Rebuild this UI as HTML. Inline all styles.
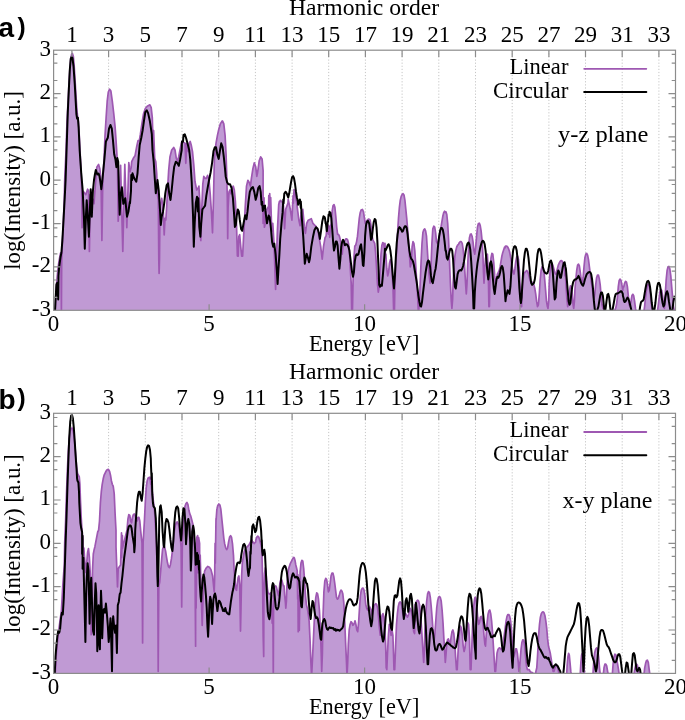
<!DOCTYPE html>
<html><head><meta charset="utf-8"><style>
html,body{margin:0;padding:0;background:#fff;}
svg{display:block;will-change:transform;}
.t text, text.t{font-family:"Liberation Serif",serif;font-size:23px;fill:#000;}
.t{font-family:"Liberation Serif",serif;font-size:23px;fill:#000;}
.lab{font-family:"Liberation Sans",sans-serif;font-weight:bold;font-size:28px;fill:#000;}
.par{font-size:24.5px;}
</style></head><body>
<svg width="685" height="720" viewBox="0 0 685 720">
<g stroke="#c6c6c6" stroke-width="1" stroke-dasharray="1.2,1.9">
<line x1="71.9" y1="50.2" x2="71.9" y2="310.3"/>
<line x1="108.6" y1="50.2" x2="108.6" y2="310.3"/>
<line x1="145.3" y1="50.2" x2="145.3" y2="310.3"/>
<line x1="182" y1="50.2" x2="182" y2="310.3"/>
<line x1="218.7" y1="50.2" x2="218.7" y2="310.3"/>
<line x1="255.4" y1="50.2" x2="255.4" y2="310.3"/>
<line x1="292.1" y1="50.2" x2="292.1" y2="310.3"/>
<line x1="328.7" y1="50.2" x2="328.7" y2="310.3"/>
<line x1="365.4" y1="50.2" x2="365.4" y2="310.3"/>
<line x1="402.1" y1="50.2" x2="402.1" y2="310.3"/>
<line x1="438.8" y1="50.2" x2="438.8" y2="310.3"/>
<line x1="475.5" y1="50.2" x2="475.5" y2="310.3"/>
<line x1="512.2" y1="50.2" x2="512.2" y2="310.3"/>
<line x1="548.9" y1="50.2" x2="548.9" y2="310.3"/>
<line x1="585.5" y1="50.2" x2="585.5" y2="310.3"/>
<line x1="622.2" y1="50.2" x2="622.2" y2="310.3"/>
<line x1="658.9" y1="50.2" x2="658.9" y2="310.3"/>
</g>
<path d="M55.1,310.3 L55.1,309.7 L55.1,310.2 L55.7,298.3 L56.3,286.9 L57.1,277.8 L58,268.7 L58.9,261.9 L59.7,257.3 L60.6,252.8 L61,259.6 L61.4,310.3 L61.7,259.6 L62.3,243.7 L63.1,230 L63.2,225.8 L64.3,198.3 L64.7,180 L66.1,148.8 L67,121.3 L68,103 L68.9,84.7 L69.8,70 L70.7,59 L71.6,54.4 L72.4,53.5 L73.3,56.2 L74.2,66.3 L75.1,81 L76,95.7 L76.8,108.5 L77.5,115.8 L78.4,121.3 L79.3,136 L80.2,154.3 L81.2,172.7 L81.7,189.2 L82.1,227.7 L83,191 L85.8,194.7 L87.6,189.2 L88.5,191 L89.4,251.5 L90.3,194.7 L92.2,198.3 L94,203.8 L94.9,191 L96.8,167.2 L98.6,164.4 L99.9,169 L101,180 L101.9,240.5 L102.8,180 L104.1,158 L105,136 L106.1,117.7 L107.2,101.2 L108.3,92 L109.6,89.2 L110.9,91.1 L112.3,101.2 L113.8,114 L115.1,126.8 L116,139.7 L116.9,154.3 L117.5,165.3 L118.2,221.2 L120.6,165.3 L122.8,251.5 L124.8,164.4 L126.8,227.7 L128.8,162.6 L130,171.7 L131.2,167.2 L131.7,161.7 L133.3,158.3 L135,155.8 L136.7,146.7 L138,140.6 L139.3,140.6 L140.4,134.2 L141.7,125 L143.5,114 L145.3,108.5 L147.2,106.3 L149.9,104.8 L151.2,107.6 L152.3,117.7 L153.3,150 L153.6,130.5 L154.7,158.3 L155.8,161.7 L156.7,173.3 L157.5,195 L158.3,200 L158.8,260 L159.1,273.5 L159.5,260 L160,206.7 L161.7,198.3 L162.5,203.3 L163.3,211.7 L164.2,235 L165,218.3 L165.8,220 L166.7,206.7 L167.5,190 L168.7,170 L170,156.7 L171.7,150 L173.7,147.5 L175,150 L176.3,158.3 L177.5,161.7 L178.7,156.7 L180,150 L181.3,143.3 L182,141.5 L185,143.3 L185.8,163.3 L186.7,143.3 L188.3,151.7 L189.2,143.3 L190.2,141.5 L191.2,145 L192.5,151.7 L193.8,165 L195,181.7 L196.7,190 L197.9,188.1 L198.3,188.3 L198.9,186.1 L199.9,203.6 L200.8,240.6 L201.8,207.5 L202.8,184.2 L203.8,176.4 L205.1,178.3 L206.3,178.3 L207.6,175.4 L209,180.3 L210.2,193.9 L211.5,213.3 L212.5,232.8 L213.5,197.8 L214.4,158.9 L216,143.3 L217.4,135.6 L218.7,129.7 L220.3,123.9 L222.2,121 L222.7,121.3 L223.8,123.9 L225.1,135.6 L226.1,155 L226.7,174.4 L227.3,197.8 L227.7,238.6 L228.1,207.5 L229,191.9 L230,190 L231,193.9 L231.9,188.1 L233.3,186.1 L234.3,190 L235.4,201.7 L236.4,221.1 L237.4,256.1 L238.2,256.1 L238.8,236.7 L239.7,234.7 L240.7,246.4 L241.7,256.1 L242.6,256.1 L243.6,236.7 L245.2,207.5 L246.5,186.1 L247.9,180.3 L249.1,182.2 L250.4,186.1 L251.4,178.3 L252.9,168.6 L254.3,162.8 L255.7,166.7 L256.8,176.4 L257.6,172.5 L259.2,160.8 L260.7,156.9 L262.1,158.9 L263.1,170.6 L263.1,197.5 L263.1,223.3 L264,197.8 L264.4,227.2 L265,225 L265.4,217.1 L267,209.3 L268.6,206.2 L268.8,195.6 L269.3,218.7 L269.7,193.6 L270.4,209.3 L270.7,197.5 L271.7,231.1 L272.8,223.3 L274,243.6 L275.6,289.4 L276.3,262.2 L277.4,231.1 L278.7,204.7 L279.4,201.4 L280.2,201.6 L280.4,200.4 L283.3,203.1 L284.6,228.8 L285.7,209.3 L288,203.1 L288.2,199.4 L290.3,209.3 L291.9,220.2 L293.1,195.6 L293.4,203.1 L294,189.7 L295,191.7 L296,199.4 L296.6,202.3 L298.9,220.2 L300.1,225.7 L301.2,212.4 L302.8,209.3 L304.3,226.4 L305.4,233.4 L306.7,223.3 L308.2,220.2 L309.8,219.4 L311.3,218.7 L312.9,223.3 L314.4,224.9 L316,226.4 L317.9,229.6 L319.1,237.3 L320.7,246.7 L322.2,259.1 L323.5,246.7 L324.6,240.4 L325,238 L325.9,236.2 L326.1,235.8 L326.8,228.9 L327.2,232.7 L327.7,227.1 L328.4,234.2 L328.6,225.3 L329.5,227.1 L329.7,237.3 L330.4,227.1 L331.3,223.5 L332.2,210.9 L333.1,205.5 L334,204.6 L334.9,207.3 L335.8,216.3 L336.7,227.1 L337.6,234.4 L338.5,234.4 L339.4,236.2 L340.3,239.8 L341.2,245.2 L342.2,254.2 L343.1,243.4 L344,241.6 L344.9,240.7 L345.8,238.9 L346.7,238.9 L347.6,239.8 L348.5,243.4 L349.4,250.6 L350.3,268.7 L351.2,283.1 L351.7,310.2 L352.4,310.2 L353,283.1 L353.9,257.8 L354.8,246.1 L355.7,245.2 L356.6,241.6 L357.5,236.2 L358.4,227.1 L359.3,218.1 L360.2,212.7 L361.1,210 L362.4,209.4 L363.5,211.8 L364.4,218.1 L365.3,223.5 L366.2,221.7 L367.4,219.9 L368.7,219 L370.1,219.9 L371,225.3 L371.9,234.4 L372.8,239.8 L373.8,241.6 L374.7,243.4 L375.6,252.4 L376.5,266.9 L377.4,283.1 L378.3,292.1 L379.2,286.7 L380.1,270.5 L381,254.2 L381.9,245.2 L382.8,242.5 L383.7,243.4 L384.6,250.6 L385,243.4 L385.5,257.8 L385.9,254.2 L386.4,263.2 L386.8,268.7 L387.7,275.9 L388.6,272.3 L389.5,263.2 L390.4,259.6 L391.3,261.4 L392.2,272.3 L393.1,290.3 L393.7,310.2 L394.4,310.2 L394.9,283.1 L395.8,263.2 L396.7,248.8 L397.6,232.6 L398.5,218.1 L399.4,207.3 L400.3,200.1 L401.2,196.4 L402.2,194.3 L403.1,193.7 L404,195 L404.9,200.1 L405.8,209.1 L406.7,218.1 L407.6,228.9 L408.5,239.8 L409.4,254.2 L410.3,266.9 L411.2,263.2 L412.1,247 L413,241.6 L413.9,243.4 L414.8,250.6 L415.7,265.1 L416.6,279.5 L417.5,293.9 L418.4,310.2 L419.3,304.8 L420.2,283.1 L421.1,261.4 L422,243.4 L422.9,232.6 L423.8,229.8 L424.7,228.9 L425.6,230.8 L426.5,236.2 L427.4,250.6 L428.3,265.1 L429.2,275.9 L430.1,283.1 L431,266.9 L431.9,243.4 L432.8,228.9 L433.8,226.2 L434.7,227.1 L435.6,232.6 L436.5,241.6 L437.4,243.4 L438.3,241.6 L439.2,236.2 L440.1,232.6 L441,227.1 L441.9,221.7 L442.8,216.3 L443.7,212.7 L444.6,211.2 L445,211.8 L445.5,212.7 L445.9,211.8 L446.8,214.5 L447.7,223.5 L448.6,239.8 L449.5,261.4 L450.4,283.1 L451.3,301.2 L451.9,308.4 L452.6,299.4 L453.1,283.1 L454,266.9 L454.9,256 L455.8,250.6 L456.7,247 L457.6,245.2 L458.5,244.3 L459.4,242.5 L460.3,241.6 L461.2,241.6 L462.2,243.4 L463.1,248.8 L464,257.8 L464.9,272.3 L465.8,286.7 L466.3,293.9 L467,283.1 L467.6,266.9 L468.5,248.8 L469.4,238 L470.3,234.4 L471.2,234 L472.1,236.2 L473,241.6 L473.9,250.6 L474.8,254.2 L475.7,247 L476.6,236.2 L477.5,227.1 L478.4,223.5 L479.3,223.2 L480.2,225.3 L481.1,230.8 L482,239.8 L482.9,254.2 L483.5,272.3 L484,283.1 L484.7,268.7 L485.6,257.8 L486.5,256 L487.4,254.2 L488.3,272.3 L488.9,306.6 L489.4,306.6 L490.1,272.3 L491,257.8 L491.9,253.3 L492.8,254.2 L493.8,263.2 L494.7,275.9 L495.6,283.1 L496.5,279.5 L497.4,274.1 L498.3,272.3 L499.2,270.5 L500.1,266.9 L501,261.4 L501.9,256 L502.8,252.4 L503.7,249.7 L504.6,247 L505,247.9 L505.5,246.1 L505.9,246.6 L506.8,246.1 L507.7,247 L508.6,248.8 L509.5,251.5 L510.4,256 L511.3,261.4 L512.2,266.9 L513.1,272.3 L514,274.1 L514.9,268.7 L515.8,261.4 L516.7,256.9 L517.6,256 L518.5,259.6 L519.4,270.5 L520.3,290.3 L520.9,306.6 L521.6,306.6 L522.2,290.3 L523.1,279.5 L524,274.1 L524.9,272.3 L525.8,271.4 L526.7,270.5 L527.6,271.4 L528.5,274.1 L529.4,277.7 L530.3,281.3 L531.2,282.2 L532.1,282.2 L533,283.1 L533.9,284.9 L534.8,288.5 L535.7,293.9 L536.6,301.2 L537.5,306.6 L538.4,304.8 L539.3,293.9 L540.2,279.5 L541.1,270.5 L542,266.9 L542.9,266.9 L543.8,270.5 L544.7,279.5 L545.6,290.3 L546.5,301.2 L547.4,306.6 L548,308.4 L548.7,301.2 L549.2,283.1 L550.1,270.5 L551,265.1 L551.9,263.2 L552.8,265.1 L553.8,268.7 L554.7,272.3 L555.6,274.1 L556.5,272.3 L557.4,268.7 L558.3,265.1 L559.2,263.2 L560.1,261.4 L561,260.5 L561.9,260.9 L562.8,262.3 L563.7,265.1 L564.6,268.7 L565,275.9 L565.5,274.1 L565.9,283.1 L566.8,297.6 L567.7,306.6 L568.6,299.4 L569.5,290.3 L570.4,285.8 L571.3,286.7 L572.2,293.9 L573.1,304.8 L573.7,308.4 L574.4,301.2 L574.9,290.3 L575.8,279.5 L576.7,270.5 L577.6,265.1 L578.5,264.2 L579.4,266 L580.3,272.3 L581.2,279.5 L582.2,283.1 L583.1,277.7 L584,266.9 L584.9,257.8 L585.8,254.2 L586.7,253.3 L587.6,255.1 L588.5,259.6 L589.4,266.9 L590.3,274.1 L591.2,281.3 L592.1,286.7 L593,293.9 L593.9,299.4 L594.8,293.9 L595.7,284.9 L596.6,277.7 L597.5,275 L598.4,275 L599.3,278.6 L600.2,284.9 L601.1,295.8 L602,304.8 L602.9,308.4 L603.8,308.4 L604.7,310.2 L606.5,310.3 L610.1,310.3 L613.8,310.3 L615.6,308.4 L616.5,304.8 L617.4,297.6 L618.3,286.7 L619.2,280.4 L620.1,279.1 L621,280.4 L621.9,284.9 L622.8,290.3 L622.9,288.5 L623.7,286.7 L623.8,286.7 L624.6,283.1 L624.7,283.1 L625.5,281.3 L625.6,281.3 L626.5,282.2 L627.4,286.7 L628.3,295.8 L629.2,304.8 L630.1,306.6 L631,301.2 L631.9,295.8 L632.8,294.3 L633.7,295.8 L634.6,301.2 L635.5,308.4 L636.4,310.3 L640.1,310.3 L643.7,310.3 L644.6,306.6 L645.5,297.6 L646.4,290.3 L647.3,285.8 L648.2,284 L649.1,284.9 L650,290.3 L650.9,299.4 L651.8,308.4 L652.7,310.3 L654.5,310.3 L657.2,310.3 L658.1,306.6 L659,299.4 L659.9,292.1 L660.8,289.4 L661.7,290.3 L662.6,295.8 L663.5,304.8 L664.4,308.4 L665.3,293.9 L666.2,279.5 L667.1,270.5 L668,266.9 L668.9,266.5 L669.8,268.7 L670.8,275.9 L671.7,286.7 L672.6,297.6 L673.5,306.6 L674.7,310.2 L674.7,310.3 Z" fill="#c09ad4"/>
<clipPath id="ca"><rect x="53.6" y="47.2" width="621.9" height="263.1"/></clipPath>
<path d="M55.1,313.3 L55.1,313.3 L55.7,298.3 L56.3,286.9 L57.1,277.8 L58,268.7 L58.9,261.9 L59.7,257.3 L60.6,252.8 L61,259.6 L61.4,313.3 L61.7,259.6 L62.3,243.7 L63.1,230 L63.2,225.8 L64.3,198.3 L64.7,180 L66.1,148.8 L67,121.3 L68,103 L68.9,84.7 L69.8,70 L70.7,59 L71.6,54.4 L72.4,53.5 L73.3,56.2 L74.2,66.3 L75.1,81 L76,95.7 L76.8,108.5 L77.5,115.8 L78.4,121.3 L79.3,136 L80.2,154.3 L81.2,172.7 L81.7,189.2 L82.1,227.7 L83,191 L85.8,194.7 L87.6,189.2 L88.5,191 L89.4,251.5 L90.3,194.7 L92.2,198.3 L94,203.8 L94.9,191 L96.8,167.2 L98.6,164.4 L99.9,169 L101,180 L101.9,240.5 L102.8,180 L104.1,158 L105,136 L106.1,117.7 L107.2,101.2 L108.3,92 L109.6,89.2 L110.9,91.1 L112.3,101.2 L113.8,114 L115.1,126.8 L116,139.7 L116.9,154.3 L117.5,165.3 L118.2,221.2 L120.6,165.3 L122.8,251.5 L124.8,164.4 L126.8,227.7 L128.8,162.6 L130,171.7 L131.2,167.2 L131.7,161.7 L133.3,158.3 L135,155.8 L136.7,146.7 L138,140.6 L139.3,140.6 L140.4,134.2 L141.7,125 L143.5,114 L145.3,108.5 L147.2,106.3 L149.9,104.8 L151.2,107.6 L152.3,117.7 L153.3,150 L153.6,130.5 L154.7,158.3 L155.8,161.7 L156.7,173.3 L157.5,195 L158.3,200 L158.8,260 L159.1,273.5 L159.5,260 L160,206.7 L161.7,198.3 L162.5,203.3 L163.3,211.7 L164.2,235 L165,218.3 L165.8,220 L166.7,206.7 L167.5,190 L168.7,170 L170,156.7 L171.7,150 L173.7,147.5 L175,150 L176.3,158.3 L177.5,161.7 L178.7,156.7 L180,150 L181.3,143.3 L182,141.5 L185,143.3 L185.8,163.3 L186.7,143.3 L188.3,151.7 L189.2,143.3 L190.2,141.5 L191.2,145 L192.5,151.7 L193.8,165 L195,181.7 L196.7,190 L197.9,188.1 L198.3,188.3 L198.9,186.1 L199.9,203.6 L200.8,240.6 L201.8,207.5 L202.8,184.2 L203.8,176.4 L205.1,178.3 L206.3,178.3 L207.6,175.4 L209,180.3 L210.2,193.9 L211.5,213.3 L212.5,232.8 L213.5,197.8 L214.4,158.9 L216,143.3 L217.4,135.6 L218.7,129.7 L220.3,123.9 L222.2,121 L222.7,121.3 L223.8,123.9 L225.1,135.6 L226.1,155 L226.7,174.4 L227.3,197.8 L227.7,238.6 L228.1,207.5 L229,191.9 L230,190 L231,193.9 L231.9,188.1 L233.3,186.1 L234.3,190 L235.4,201.7 L236.4,221.1 L237.4,256.1 L238.2,256.1 L238.8,236.7 L239.7,234.7 L240.7,246.4 L241.7,256.1 L242.6,256.1 L243.6,236.7 L245.2,207.5 L246.5,186.1 L247.9,180.3 L249.1,182.2 L250.4,186.1 L251.4,178.3 L252.9,168.6 L254.3,162.8 L255.7,166.7 L256.8,176.4 L257.6,172.5 L259.2,160.8 L260.7,156.9 L262.1,158.9 L263.1,170.6 L263.1,197.5 L263.1,223.3 L264,197.8 L264.4,227.2 L265,225 L265.4,217.1 L267,209.3 L268.6,206.2 L268.8,195.6 L269.3,218.7 L269.7,193.6 L270.4,209.3 L270.7,197.5 L271.7,231.1 L272.8,223.3 L274,243.6 L275.6,289.4 L276.3,262.2 L277.4,231.1 L278.7,204.7 L279.4,201.4 L280.2,201.6 L280.4,200.4 L283.3,203.1 L284.6,228.8 L285.7,209.3 L288,203.1 L288.2,199.4 L290.3,209.3 L291.9,220.2 L293.1,195.6 L293.4,203.1 L294,189.7 L295,191.7 L296,199.4 L296.6,202.3 L298.9,220.2 L300.1,225.7 L301.2,212.4 L302.8,209.3 L304.3,226.4 L305.4,233.4 L306.7,223.3 L308.2,220.2 L309.8,219.4 L311.3,218.7 L312.9,223.3 L314.4,224.9 L316,226.4 L317.9,229.6 L319.1,237.3 L320.7,246.7 L322.2,259.1 L323.5,246.7 L324.6,240.4 L325,238 L325.9,236.2 L326.1,235.8 L326.8,228.9 L327.2,232.7 L327.7,227.1 L328.4,234.2 L328.6,225.3 L329.5,227.1 L329.7,237.3 L330.4,227.1 L331.3,223.5 L332.2,210.9 L333.1,205.5 L334,204.6 L334.9,207.3 L335.8,216.3 L336.7,227.1 L337.6,234.4 L338.5,234.4 L339.4,236.2 L340.3,239.8 L341.2,245.2 L342.2,254.2 L343.1,243.4 L344,241.6 L344.9,240.7 L345.8,238.9 L346.7,238.9 L347.6,239.8 L348.5,243.4 L349.4,250.6 L350.3,268.7 L351.2,283.1 L351.7,313.3 L352.4,313.3 L353,283.1 L353.9,257.8 L354.8,246.1 L355.7,245.2 L356.6,241.6 L357.5,236.2 L358.4,227.1 L359.3,218.1 L360.2,212.7 L361.1,210 L362.4,209.4 L363.5,211.8 L364.4,218.1 L365.3,223.5 L366.2,221.7 L367.4,219.9 L368.7,219 L370.1,219.9 L371,225.3 L371.9,234.4 L372.8,239.8 L373.8,241.6 L374.7,243.4 L375.6,252.4 L376.5,266.9 L377.4,283.1 L378.3,292.1 L379.2,286.7 L380.1,270.5 L381,254.2 L381.9,245.2 L382.8,242.5 L383.7,243.4 L384.6,250.6 L385,243.4 L385.5,257.8 L385.9,254.2 L386.4,263.2 L386.8,268.7 L387.7,275.9 L388.6,272.3 L389.5,263.2 L390.4,259.6 L391.3,261.4 L392.2,272.3 L393.1,290.3 L393.7,313.3 L394.4,313.3 L394.9,283.1 L395.8,263.2 L396.7,248.8 L397.6,232.6 L398.5,218.1 L399.4,207.3 L400.3,200.1 L401.2,196.4 L402.2,194.3 L403.1,193.7 L404,195 L404.9,200.1 L405.8,209.1 L406.7,218.1 L407.6,228.9 L408.5,239.8 L409.4,254.2 L410.3,266.9 L411.2,263.2 L412.1,247 L413,241.6 L413.9,243.4 L414.8,250.6 L415.7,265.1 L416.6,279.5 L417.5,293.9 L418.4,313.3 L419.3,304.8 L420.2,283.1 L421.1,261.4 L422,243.4 L422.9,232.6 L423.8,229.8 L424.7,228.9 L425.6,230.8 L426.5,236.2 L427.4,250.6 L428.3,265.1 L429.2,275.9 L430.1,283.1 L431,266.9 L431.9,243.4 L432.8,228.9 L433.8,226.2 L434.7,227.1 L435.6,232.6 L436.5,241.6 L437.4,243.4 L438.3,241.6 L439.2,236.2 L440.1,232.6 L441,227.1 L441.9,221.7 L442.8,216.3 L443.7,212.7 L444.6,211.2 L445,211.8 L445.5,212.7 L445.9,211.8 L446.8,214.5 L447.7,223.5 L448.6,239.8 L449.5,261.4 L450.4,283.1 L451.3,301.2 L451.9,308.4 L452.6,299.4 L453.1,283.1 L454,266.9 L454.9,256 L455.8,250.6 L456.7,247 L457.6,245.2 L458.5,244.3 L459.4,242.5 L460.3,241.6 L461.2,241.6 L462.2,243.4 L463.1,248.8 L464,257.8 L464.9,272.3 L465.8,286.7 L466.3,293.9 L467,283.1 L467.6,266.9 L468.5,248.8 L469.4,238 L470.3,234.4 L471.2,234 L472.1,236.2 L473,241.6 L473.9,250.6 L474.8,254.2 L475.7,247 L476.6,236.2 L477.5,227.1 L478.4,223.5 L479.3,223.2 L480.2,225.3 L481.1,230.8 L482,239.8 L482.9,254.2 L483.5,272.3 L484,283.1 L484.7,268.7 L485.6,257.8 L486.5,256 L487.4,254.2 L488.3,272.3 L488.9,306.6 L489.4,306.6 L490.1,272.3 L491,257.8 L491.9,253.3 L492.8,254.2 L493.8,263.2 L494.7,275.9 L495.6,283.1 L496.5,279.5 L497.4,274.1 L498.3,272.3 L499.2,270.5 L500.1,266.9 L501,261.4 L501.9,256 L502.8,252.4 L503.7,249.7 L504.6,247 L505,247.9 L505.5,246.1 L505.9,246.6 L506.8,246.1 L507.7,247 L508.6,248.8 L509.5,251.5 L510.4,256 L511.3,261.4 L512.2,266.9 L513.1,272.3 L514,274.1 L514.9,268.7 L515.8,261.4 L516.7,256.9 L517.6,256 L518.5,259.6 L519.4,270.5 L520.3,290.3 L520.9,306.6 L521.6,306.6 L522.2,290.3 L523.1,279.5 L524,274.1 L524.9,272.3 L525.8,271.4 L526.7,270.5 L527.6,271.4 L528.5,274.1 L529.4,277.7 L530.3,281.3 L531.2,282.2 L532.1,282.2 L533,283.1 L533.9,284.9 L534.8,288.5 L535.7,293.9 L536.6,301.2 L537.5,306.6 L538.4,304.8 L539.3,293.9 L540.2,279.5 L541.1,270.5 L542,266.9 L542.9,266.9 L543.8,270.5 L544.7,279.5 L545.6,290.3 L546.5,301.2 L547.4,306.6 L548,308.4 L548.7,301.2 L549.2,283.1 L550.1,270.5 L551,265.1 L551.9,263.2 L552.8,265.1 L553.8,268.7 L554.7,272.3 L555.6,274.1 L556.5,272.3 L557.4,268.7 L558.3,265.1 L559.2,263.2 L560.1,261.4 L561,260.5 L561.9,260.9 L562.8,262.3 L563.7,265.1 L564.6,268.7 L565,275.9 L565.5,274.1 L565.9,283.1 L566.8,297.6 L567.7,306.6 L568.6,299.4 L569.5,290.3 L570.4,285.8 L571.3,286.7 L572.2,293.9 L573.1,304.8 L573.7,308.4 L574.4,301.2 L574.9,290.3 L575.8,279.5 L576.7,270.5 L577.6,265.1 L578.5,264.2 L579.4,266 L580.3,272.3 L581.2,279.5 L582.2,283.1 L583.1,277.7 L584,266.9 L584.9,257.8 L585.8,254.2 L586.7,253.3 L587.6,255.1 L588.5,259.6 L589.4,266.9 L590.3,274.1 L591.2,281.3 L592.1,286.7 L593,293.9 L593.9,299.4 L594.8,293.9 L595.7,284.9 L596.6,277.7 L597.5,275 L598.4,275 L599.3,278.6 L600.2,284.9 L601.1,295.8 L602,304.8 L602.9,308.4 L603.8,308.4 L604.7,313.3 L606.5,313.3 L610.1,313.3 L613.8,313.3 L615.6,308.4 L616.5,304.8 L617.4,297.6 L618.3,286.7 L619.2,280.4 L620.1,279.1 L621,280.4 L621.9,284.9 L622.8,290.3 L622.9,288.5 L623.7,286.7 L623.8,286.7 L624.6,283.1 L624.7,283.1 L625.5,281.3 L625.6,281.3 L626.5,282.2 L627.4,286.7 L628.3,295.8 L629.2,304.8 L630.1,306.6 L631,301.2 L631.9,295.8 L632.8,294.3 L633.7,295.8 L634.6,301.2 L635.5,308.4 L636.4,313.3 L640.1,313.3 L643.7,313.3 L644.6,306.6 L645.5,297.6 L646.4,290.3 L647.3,285.8 L648.2,284 L649.1,284.9 L650,290.3 L650.9,299.4 L651.8,308.4 L652.7,313.3 L654.5,313.3 L657.2,313.3 L658.1,306.6 L659,299.4 L659.9,292.1 L660.8,289.4 L661.7,290.3 L662.6,295.8 L663.5,304.8 L664.4,308.4 L665.3,293.9 L666.2,279.5 L667.1,270.5 L668,266.9 L668.9,266.5 L669.8,268.7 L670.8,275.9 L671.7,286.7 L672.6,297.6 L673.5,306.6 L674.7,313.3" fill="none" stroke="#9e58b2" stroke-width="1.7" stroke-linejoin="round" clip-path="url(#ca)"/>
<path d="M54.6,313.3 L54.9,313.3 L55.5,300.6 L55.9,293.8 L56.4,284.7 L57.1,283 L57.5,289.2 L58,297.2 L58.2,299.5 L58.4,286.9 L58.5,275.6 L59.1,267.6 L59.7,263 L60.5,257.3 L61.4,252.8 L62.3,241.4 L63.2,225.8 L64.7,198.3 L65.6,180 L66.9,139.7 L67.8,112.2 L68.9,88.3 L69.8,70 L70.7,59 L71.6,56.8 L72.5,58.1 L73.5,66.3 L74.8,84.7 L75.7,101.2 L76.4,114 L77.1,118.6 L77.9,117.7 L78.6,126.8 L79.7,150.7 L81.2,172.7 L82.6,189.2 L83.9,216.7 L84.8,248.8 L85.9,216.7 L86.7,200.2 L87.8,216.7 L88.9,236.8 L90,207.5 L90.7,189.2 L91.8,216.7 L92.9,191 L94,180 L94.9,174.5 L95.8,169.9 L97.3,174.5 L98.6,173.6 L99.5,176.3 L100.4,181.8 L101.3,189.2 L102.2,181.8 L104.5,158 L105.9,141.5 L107.8,137.8 L109,128.7 L110.5,125 L111.8,128.7 L112.9,139.7 L114.2,154.3 L115.5,159.8 L116.4,167.2 L117.3,158 L118.2,161.7 L118.9,191 L119.7,214.8 L120.6,194.7 L121.9,187.3 L123.3,203.8 L125.2,198.3 L127,216.7 L128.5,211.2 L129.8,202 L130,203.3 L131,191 L131.3,175 L132.1,180 L132.5,173.3 L134.2,178.3 L136.3,181.7 L137.5,173.3 L138.7,156.7 L139.7,145 L141.3,137.8 L142.6,130.5 L143.9,121.3 L145.3,112.2 L146.8,110.3 L148.1,113.1 L149.9,121.3 L151.8,134.2 L152.5,150 L153.7,161.7 L155,181.7 L155.8,193.3 L156.7,186.7 L157.5,180 L158.7,190 L160,210 L160.8,225 L161.7,216.7 L163,211.7 L164.2,203.3 L165.3,193.3 L166.7,185 L168,183.3 L169.2,193.3 L170.5,200 L171.7,190 L173,176.7 L174.2,166.7 L175.8,161.7 L177.5,163.3 L178.8,165.8 L180,160 L181.7,150 L182,141.5 L183,141.7 L183.5,135.1 L184.8,134.2 L186,137.8 L187.5,143.3 L189.2,150 L190.3,160 L191.7,181.7 L193,215 L193.8,246.7 L194.7,223.3 L195.8,203.3 L197,196.7 L197.9,211.4 L198.3,198.3 L199.3,226.9 L200.4,236.7 L201.2,223.1 L202.4,209.4 L203.8,207.5 L205.1,205.6 L206.3,195.8 L207.6,188.1 L209,180.3 L210.6,172.5 L212.1,162.8 L213.5,151.1 L214.8,147.2 L216,147.2 L217.4,155 L218.7,158.9 L219.9,151.1 L221.2,143.3 L222.6,147.2 L223.8,156.9 L224.8,166.7 L225.7,176.4 L227.1,182.2 L228.4,184.2 L230,184.2 L231.6,188.1 L232.9,197.8 L233.9,211.4 L234.9,226.9 L235.8,225 L236.8,215.3 L237.8,209.4 L238.8,211.4 L239.7,219.2 L241.1,228.9 L242.2,230.8 L243.6,223.1 L245.2,215.3 L246.5,219.2 L247.5,211.4 L248.5,201.7 L249.8,191.9 L251.4,188.1 L252.9,187.1 L254.3,191.9 L255.7,199.7 L256.8,195.8 L258.2,188.1 L259.6,186.1 L260.7,191.9 L261.6,204.7 L262.1,201.7 L262.8,210.9 L263.4,207.5 L263.9,206.2 L265,205.6 L265.4,210.9 L267,223.3 L268.6,215.6 L269.6,217.1 L270.9,228 L272.1,242 L273.2,246.7 L274.3,243.6 L275.6,254.4 L276.8,270 L277.6,284 L278.4,270 L279.4,254.4 L280.2,238.9 L281.5,223.3 L282.6,212.4 L283.3,199.4 L283.6,203.1 L284.3,193.6 L285.7,191.7 L286.8,193.6 L288.2,197.5 L289.2,193.6 L290.1,187.8 L291.1,181.9 L292.1,177.1 L293.1,176.1 L294,178.1 L295,183.9 L296,191.7 L296.9,197.5 L297.9,201.4 L298.1,204.7 L298.9,200.4 L299.7,201.6 L299.9,199.4 L300.8,207.8 L300.8,201.4 L302,220.2 L303.2,235.8 L304.3,254.4 L304.8,263.8 L305.6,259.1 L306.7,253.7 L307.9,257.6 L309,262.2 L309.8,259.1 L311.3,246.7 L312.9,237.3 L314.4,230.3 L316,227.2 L317.6,228.8 L318.8,232.7 L319.9,238.9 L321,231.1 L322.2,221.8 L323.5,216.3 L324.6,217.1 L325,218.1 L325.6,223.3 L325.9,223.5 L326.8,230.8 L326.9,231.1 L327.7,221.7 L328,221.8 L328.6,214.5 L329.2,215.6 L329.5,211.8 L330,214 L330.4,212.7 L331.3,218.1 L332.2,228.9 L333.1,241.6 L334,250.6 L334.9,247 L335.8,241.6 L336.7,241.6 L337.6,245.2 L338.5,257.8 L339.4,268.7 L340.3,259.6 L341.2,247 L342.2,241.6 L343.1,239.8 L344,241.6 L344.9,245.2 L345.8,244.3 L346.7,244.3 L347.6,245.2 L348.5,247 L349.4,250.6 L350.3,257.8 L351.2,265.1 L352.1,272.3 L353,276.8 L353.9,272.3 L354.8,261.4 L355.7,256 L356.6,254.2 L357.5,255.1 L358.4,254.2 L359.3,250.6 L360.2,246.1 L361.1,244.3 L362,252.4 L362.9,265.1 L363.5,266 L364.4,252.4 L365.1,236.2 L366,225.3 L366.9,221.7 L368,220.8 L369.2,223.5 L370.1,230.8 L371,239.8 L371.9,238 L372.8,228.9 L373.8,221.7 L374.7,219 L375.6,219.9 L376.5,227.1 L377.4,241.6 L378.3,263.2 L379.2,284.9 L380.1,286.7 L381,284.9 L381.9,285.8 L382.8,275.9 L383.7,265.1 L384.6,254.2 L385,248.8 L385.5,250.6 L385.9,249.7 L386.8,247.9 L387.7,245.2 L388.6,244.3 L389.5,246.1 L390.4,250.6 L391.3,257.8 L392.2,268.7 L393.1,279.5 L394,288.5 L394.9,275.9 L395.8,257.8 L396.7,243.4 L397.6,234.4 L398.5,228.9 L399.4,227.1 L400.3,228 L401.2,229.8 L402.2,231.7 L403.1,230.8 L404,228 L404.9,226.2 L405.8,226.2 L406.7,228 L407.6,234.4 L408.5,243.4 L409.4,250.6 L410.3,256 L411.2,258.7 L412.1,259.6 L413,261.4 L413.9,265.1 L414.8,270.5 L415.7,275.9 L416.6,281.3 L417.5,288.5 L418.4,295.8 L419.3,301.2 L420.2,305.7 L421.1,306.6 L422,302.1 L422.9,293.9 L423.8,286.7 L424.7,279.5 L425.6,272.3 L426.5,266.9 L427.4,262.3 L428.3,260.5 L429.2,261.4 L430.1,266.9 L431,275.9 L431.9,281.3 L432.8,283.1 L433.8,277.7 L434.7,272.3 L435.6,268.7 L436.5,261.4 L437.4,252.4 L438.3,243.4 L439.2,236.2 L440.1,230.8 L441,228 L441.9,228 L442.8,229.8 L443.7,234.4 L444.6,241.6 L445.5,250.6 L445.9,250.6 L446.8,257.8 L447.7,259.6 L448.6,256 L449.5,251.5 L450.4,248.8 L451.3,248.8 L452.2,250.6 L453.1,259.6 L454,275.9 L454.9,286.7 L455.8,288.5 L456.7,281.3 L457.6,274.1 L458.5,271.4 L459.4,270.5 L460.3,270.1 L461.2,270.5 L462.2,268.7 L463.1,266 L464,261.4 L464.9,256 L465.8,250.6 L466.7,246.1 L467.6,243.4 L468.5,242.5 L469.4,244.3 L470.3,249.7 L471.2,261.4 L472.1,275.9 L473,292.1 L473.5,308.4 L474.2,308.4 L474.8,292.1 L475.7,279.5 L476.6,270.5 L477.5,263.2 L478.4,257.8 L479.3,252.4 L480.2,247.9 L481.1,244.3 L482,241.6 L482.9,240.7 L483.8,241.6 L484.7,244.3 L485.6,250.6 L486.5,261.4 L487.4,272.3 L488.3,279.5 L489.2,272.3 L490.1,263.2 L491,261.4 L491.9,265.1 L492.8,277.7 L493.8,288.5 L494.7,293.9 L495.6,286.7 L496.5,279.5 L497.4,276.8 L498.3,277.7 L499.2,275.9 L500.1,272.3 L501,267.8 L501.9,266 L502.8,267.8 L503.7,274.1 L504.6,286.7 L505.5,301.2 L505.9,297.6 L506.8,293.9 L507.7,290.3 L508.6,292.1 L509.5,293.9 L510.4,286.7 L511.3,272.3 L512.2,259.6 L513.1,250.6 L514,247 L514.9,246.1 L515.8,247 L516.7,250.6 L517.6,259.6 L518.5,272.3 L519.4,288.5 L520.3,299.4 L520.9,303 L521.6,297.6 L522.2,286.7 L523.1,272.3 L524,259.6 L524.9,252.4 L525.8,248.8 L526.7,248.8 L527.6,251.5 L528.5,257.8 L529.4,266.9 L530.3,275.9 L531.2,283.1 L532.1,284.9 L533,284 L533.9,283.1 L534.8,279.5 L535.7,272.3 L536.6,263.2 L537.5,254.2 L538.4,249.7 L539.3,248.8 L540.2,249.7 L541.1,253.3 L542,259.6 L542.9,266.9 L543.8,270.5 L544.7,272.3 L545.6,273.2 L546.5,273.7 L547.4,273.2 L548.3,270.5 L549.2,265.1 L550.1,261.4 L551,260.5 L551.9,263.2 L552.8,272.3 L553.8,286.7 L554.7,299.4 L555.6,297.6 L556.5,283.1 L557.4,274.1 L558.3,270.5 L559.2,272.3 L560.1,277.7 L561,277.7 L561.9,272.3 L562.8,266.9 L563.7,263.2 L564.6,262.3 L565.5,266.9 L565.9,268.7 L566.8,279.5 L567.7,290.3 L568.6,301.2 L569.5,304.8 L570.4,303 L571.3,293.9 L572.2,286.7 L573.1,282.2 L574,280.4 L574.9,279.5 L575.8,279.5 L576.7,278.6 L577.6,277.7 L578.5,275.9 L579.4,277.7 L580.3,280.4 L581.2,283.1 L582.2,284.9 L583.1,285.8 L584,283.1 L584.9,279.5 L585.8,276.8 L586.7,274.1 L587.6,273.2 L588.5,272.3 L589.4,271.9 L590.3,272.3 L591.2,274.1 L592.1,279.5 L593,288.5 L593.9,301.2 L594.8,309.3 L595.7,313.3 L596.6,313.3 L597.5,309.3 L598.4,306.6 L599.3,301.2 L600.2,295.8 L601.1,292.5 L602,292.5 L602.9,295.8 L603.8,304.8 L604.7,313.3 L605.6,308.4 L606.5,301.2 L607.4,294.8 L608.3,293.9 L609.2,297.6 L610.1,306.6 L611,313.3 L611.9,313.3 L612.8,308.4 L613.8,303 L614.7,297.6 L615.6,294.3 L616.5,293.6 L617.4,293.6 L618.3,293 L619.2,292.5 L620.1,291.8 L621,291.2 L621.9,291.8 L622.8,293.9 L622.9,295.8 L623.7,298.5 L623.8,300.3 L624.6,302.1 L624.7,302.1 L625.5,301.2 L625.6,301.2 L626.5,299.4 L627.4,297.6 L628.3,298.5 L629.2,301.2 L630.1,304.8 L631,308.4 L631.9,313.3 L639.2,313.3 L640.1,306.6 L641,302.1 L641.9,301.2 L642.8,300.8 L643.7,299.4 L644.6,293.9 L645.5,288.5 L646.4,284 L647.3,281.3 L648.2,280.9 L649.1,282.2 L650,286.7 L650.9,293.9 L651.8,303 L652.7,309.3 L653.6,313.3 L654.5,309.3 L655.4,303 L656.3,293.9 L657.2,286.7 L658.1,283.1 L659,282.8 L659.9,284.9 L660.8,290.3 L661.7,297.6 L662.6,303 L663.5,306.6 L664.4,304.8 L665.3,297.6 L666.2,293 L667.1,291.2 L668,293.9 L668.9,301.2 L669.8,306.6 L670.8,313.3 L671.7,313.3 L672.6,308.4 L673.5,301.2 L674.7,295.8" fill="none" stroke="#000" stroke-width="2" stroke-linejoin="round" clip-path="url(#ca)"/>
<g stroke="#8c8c8c" stroke-width="1.2" fill="none">
<rect x="53.6" y="50.2" width="621.9" height="260.1"/>
<path d="M53.6,297.3h3.8M675.5,297.3h-3.8M53.6,280h3.8M675.5,280h-3.8M53.6,271.2h3.8M675.5,271.2h-3.8M53.6,266.9h7M675.5,266.9h-7M53.6,253.9h3.8M675.5,253.9h-3.8M53.6,236.6h3.8M675.5,236.6h-3.8M53.6,227.8h3.8M675.5,227.8h-3.8M53.6,223.6h7M675.5,223.6h-7M53.6,210.6h3.8M675.5,210.6h-3.8M53.6,193.3h3.8M675.5,193.3h-3.8M53.6,184.5h3.8M675.5,184.5h-3.8M53.6,180.2h7M675.5,180.2h-7M53.6,167.2h3.8M675.5,167.2h-3.8M53.6,149.9h3.8M675.5,149.9h-3.8M53.6,141.1h3.8M675.5,141.1h-3.8M53.6,136.9h7M675.5,136.9h-7M53.6,123.9h3.8M675.5,123.9h-3.8M53.6,106.6h3.8M675.5,106.6h-3.8M53.6,97.8h3.8M675.5,97.8h-3.8M53.6,93.6h7M675.5,93.6h-7M53.6,80.5h3.8M675.5,80.5h-3.8M53.6,63.2h3.8M675.5,63.2h-3.8M53.6,54.4h3.8M675.5,54.4h-3.8M209.1,310.3v-6M364.6,310.3v-6M520,310.3v-6M71.9,50.2v6.8M108.6,50.2v6.8M145.3,50.2v6.8M182,50.2v6.8M218.7,50.2v6.8M255.4,50.2v6.8M292.1,50.2v6.8M328.7,50.2v6.8M365.4,50.2v6.8M402.1,50.2v6.8M438.8,50.2v6.8M475.5,50.2v6.8M512.2,50.2v6.8M548.9,50.2v6.8M585.5,50.2v6.8M622.2,50.2v6.8M658.9,50.2v6.8"/>
</g>
<g class="t">
<text x="51" y="315.6" text-anchor="end">-3</text>
<text x="51" y="272.2" text-anchor="end">-2</text>
<text x="51" y="228.9" text-anchor="end">-1</text>
<text x="51" y="185.6" text-anchor="end">0</text>
<text x="51" y="142.2" text-anchor="end">1</text>
<text x="51" y="98.9" text-anchor="end">2</text>
<text x="51" y="55.5" text-anchor="end">3</text>
<text x="53.6" y="331" text-anchor="middle">0</text>
<text x="209.1" y="331" text-anchor="middle">5</text>
<text x="364.6" y="331" text-anchor="middle">10</text>
<text x="520" y="331" text-anchor="middle">15</text>
<text x="675.5" y="331" text-anchor="middle">20</text>
<text x="71.9" y="41.8" text-anchor="middle">1</text>
<text x="108.6" y="41.8" text-anchor="middle">3</text>
<text x="145.3" y="41.8" text-anchor="middle">5</text>
<text x="182" y="41.8" text-anchor="middle">7</text>
<text x="218.7" y="41.8" text-anchor="middle">9</text>
<text x="255.4" y="41.8" text-anchor="middle">11</text>
<text x="292.1" y="41.8" text-anchor="middle">13</text>
<text x="328.7" y="41.8" text-anchor="middle">15</text>
<text x="365.4" y="41.8" text-anchor="middle">17</text>
<text x="402.1" y="41.8" text-anchor="middle">19</text>
<text x="438.8" y="41.8" text-anchor="middle">21</text>
<text x="475.5" y="41.8" text-anchor="middle">23</text>
<text x="512.2" y="41.8" text-anchor="middle">25</text>
<text x="548.9" y="41.8" text-anchor="middle">27</text>
<text x="585.5" y="41.8" text-anchor="middle">29</text>
<text x="622.2" y="41.8" text-anchor="middle">31</text>
<text x="658.9" y="41.8" text-anchor="middle">33</text>
<text x="288.9" y="15.3" textLength="150.2" lengthAdjust="spacingAndGlyphs">Harmonic order</text>
<text x="308.9" y="350.9" textLength="110.5" lengthAdjust="spacingAndGlyphs">Energy [eV]</text>
<text transform="translate(19.6,269.8) rotate(-90)" textLength="178.7" lengthAdjust="spacingAndGlyphs">log(Intensity) [a.u.]</text>
<text x="509.5" y="74" textLength="58.9" lengthAdjust="spacingAndGlyphs">Linear</text>
<text x="493" y="97.6" textLength="75.4" lengthAdjust="spacingAndGlyphs">Circular</text>
<text x="558" y="141.5" textLength="90.4" lengthAdjust="spacingAndGlyphs">y-z plane</text>
</g>
<line x1="584.2" y1="68.8" x2="646.3" y2="68.8" stroke="#9e58b2" stroke-width="1.8" stroke-linecap="round"/>
<line x1="584.2" y1="92.1" x2="646.3" y2="92.1" stroke="#000" stroke-width="2" stroke-linecap="round"/>
<g stroke="#c6c6c6" stroke-width="1" stroke-dasharray="1.2,1.9">
<line x1="71.9" y1="413.3" x2="71.9" y2="673.4"/>
<line x1="108.6" y1="413.3" x2="108.6" y2="673.4"/>
<line x1="145.3" y1="413.3" x2="145.3" y2="673.4"/>
<line x1="182" y1="413.3" x2="182" y2="673.4"/>
<line x1="218.7" y1="413.3" x2="218.7" y2="673.4"/>
<line x1="255.4" y1="413.3" x2="255.4" y2="673.4"/>
<line x1="292.1" y1="413.3" x2="292.1" y2="673.4"/>
<line x1="328.7" y1="413.3" x2="328.7" y2="673.4"/>
<line x1="365.4" y1="413.3" x2="365.4" y2="673.4"/>
<line x1="402.1" y1="413.3" x2="402.1" y2="673.4"/>
<line x1="438.8" y1="413.3" x2="438.8" y2="673.4"/>
<line x1="475.5" y1="413.3" x2="475.5" y2="673.4"/>
<line x1="512.2" y1="413.3" x2="512.2" y2="673.4"/>
<line x1="548.9" y1="413.3" x2="548.9" y2="673.4"/>
<line x1="585.5" y1="413.3" x2="585.5" y2="673.4"/>
<line x1="622.2" y1="413.3" x2="622.2" y2="673.4"/>
<line x1="658.9" y1="413.3" x2="658.9" y2="673.4"/>
</g>
<path d="M55.1,673.4 L55.1,673.2 L56.4,653 L58.2,634.7 L60.1,620 L61.4,610.8 L62.8,585.2 L64.3,565 L64.7,543 L65.6,521 L66.5,493.5 L67.4,469.7 L68.3,451.3 L69.2,438.5 L70.2,431.2 L71.1,428.4 L72,427.9 L72.9,429.3 L73.8,434.8 L74.8,444 L75.7,455 L76.6,466 L77.5,473.3 L78.4,475.2 L79.3,477 L79.9,484.3 L80.4,499 L81.2,517.3 L82.1,532 L83,539.3 L83,546.7 L83.9,548.5 L84.8,561.3 L85.8,572.3 L86.7,563.2 L87.6,552.2 L88.5,548.5 L89.4,557.7 L90.3,574.2 L91.2,634.7 L91.8,625.5 L92.5,570.5 L93.3,554 L94,550.3 L94.9,546.7 L97.7,532 L98.6,530.2 L99.5,521 L100.4,502.7 L101.3,491.7 L102.2,484.3 L103.2,478.8 L104.1,475.2 L105,473.3 L105.9,471.5 L106.8,470 L108.3,469.3 L109.6,471.5 L110.5,475.2 L111.4,480.7 L112.3,484.3 L113.2,486.2 L114.2,493.5 L115.1,513.7 L116,530.2 L116,546.7 L116.9,570.5 L117.5,587 L118.2,568.7 L119.3,566.8 L120.6,565 L121.5,532.9 L121.5,557.7 L122.4,535.7 L122.4,548.5 L127,530.2 L127.9,519.2 L128.8,514.6 L129.8,515.5 L130.7,521 L131.6,522.8 L132.5,517.3 L133.4,514.6 L134.3,514 L135.2,515.5 L136.2,519.2 L137.1,521 L138,517.3 L138.9,517.3 L139.8,521 L140.8,532 L142,543 L142.6,642.9 L143.1,543 L144.4,521 L145.3,502.7 L146.2,488 L147.2,480.7 L148.1,477.9 L149,477.4 L149.9,478.8 L150,477.2 L150.8,484.3 L151,481.1 L151.8,491.7 L151.9,488.9 L152.9,496.7 L153.5,502.5 L154.3,508.3 L154.9,516.1 L155.8,531.7 L156.8,555 L157.8,576.4 L158.2,671.3 L158.8,586.1 L159.7,582.2 L160.7,570.6 L161.7,558.9 L162.6,549.2 L163.6,546.2 L164.6,547.2 L165.6,551.1 L166.5,556.9 L167.5,562.8 L168.5,566.7 L169.4,567.6 L170.4,564.7 L171.4,558.9 L172.4,551.1 L173.3,541.4 L174.3,531.7 L175.3,525.8 L176.2,522.9 L177.2,521.9 L178.2,523.9 L179.2,527.8 L180.1,535.6 L181.1,547.2 L181.7,606.9 L182.3,547.2 L183.1,527.8 L184,512.2 L185,506.4 L186,503.5 L186.9,502.5 L187.9,504.4 L188.9,510.3 L189.9,514.2 L190.8,516.1 L191.8,520 L192.8,523.9 L193.8,529.7 L194.3,541.4 L195.1,566.7 L195.3,607.9 L195.6,646.2 L195.7,543.3 L196.1,607.9 L196.6,569.6 L196.7,537.5 L197.6,535.6 L198.2,572.8 L198.6,537.5 L199.6,543.3 L199.8,579.2 L200.2,555 L201.4,599.9 L202.2,625.5 L203,599.9 L203.8,579.2 L204.6,571.2 L206.2,568 L207.8,566.4 L209.4,567.2 L211,569.6 L212.6,576 L213.4,584 L214.2,591.9 L214.6,579.2 L215.1,543.3 L215.3,563.2 L216,518.6 L216.1,520 L216.9,508.9 L217.1,508.3 L217.9,505 L218.1,505.4 L218.9,504 L219,504.4 L219.9,505 L220.8,508.9 L221.8,518.6 L222.8,528.3 L223.8,538.1 L224.7,543.9 L225.7,547.8 L226.7,549.7 L227.6,547.8 L228.6,541.9 L229.6,537.1 L230.6,535.7 L231.5,537.1 L232.5,543.9 L233.5,555.6 L234.1,569.6 L234.9,579.2 L235.7,588.8 L236.5,590.3 L237.3,584 L238.1,577.6 L238.9,576 L239.7,584 L240.5,631.1 L241,607.9 L241.6,576 L242.3,563.2 L243.2,557.5 L244.2,551.7 L245.1,549.7 L246.1,547.8 L247.1,546.8 L248.1,545.8 L249,544.9 L250,542.9 L251,541 L251.9,540 L252.8,542.8 L252.9,541.9 L254.2,543.5 L255.6,542.1 L255.8,540 L256.8,537.1 L257.8,536.1 L258.8,537.1 L259.7,540 L261.8,548.3 L262.5,574.7 L263.2,637.2 L263.7,656.6 L263.9,595.6 L264.6,573.3 L265.3,567.8 L266,571.9 L266.7,581.7 L267.4,588.6 L268.1,592.8 L269.4,594.2 L270.8,592.8 L271.5,595.6 L272.2,623.3 L272.9,609.4 L273.3,673.4 L273.6,595.6 L274.3,587.2 L275,586.5 L275.7,585.8 L276.4,587.2 L277.1,590 L277.8,592.8 L278.5,595.6 L279.2,590 L279.9,583.1 L280.6,580.3 L281.2,578.9 L281.9,580.3 L282.6,583.1 L283.3,585.8 L284,585.8 L284.7,595.6 L285.4,602.5 L285.8,608.1 L286.4,601.1 L286.8,588.6 L287.5,576.1 L288.2,570.6 L288.9,567.8 L289.6,565.7 L290.3,563.6 L291,562.2 L291.7,560.8 L292.4,559.4 L293.1,558.1 L293.8,557.4 L294.4,558.1 L295.1,560.8 L295.8,565 L296.5,567.8 L297.2,570.6 L297.7,599.2 L297.9,574.7 L298.2,631.7 L298.6,595.6 L299,599.2 L299.3,630.3 L300.1,572.1 L301,563.1 L301.9,560.3 L302.8,561.2 L303.7,568.5 L304.6,581.1 L305.5,595.6 L306.4,604.6 L307.3,608.2 L308.2,613.6 L309.1,620.8 L310,638.9 L310.9,662.4 L311.6,673.2 L312.3,662.4 L313.1,646.1 L314,626.2 L314.9,608.2 L315.8,597.4 L316.7,592.8 L317.6,593.8 L318.5,599.2 L319.4,610 L320.3,626.2 L321.2,653.3 L321.7,671.4 L322.4,653.3 L323,617.2 L323.9,591.9 L324.8,581.1 L325.7,578.4 L326.6,579.3 L327.5,584.7 L328.4,591.9 L329.3,590.1 L330.2,582.9 L331.1,575.7 L332,573 L332.9,573 L333.8,576.6 L334.7,582.9 L335.6,590.1 L336.5,597.4 L337.4,599.2 L338.3,598.3 L339.2,595.6 L340.1,591.9 L341,590.1 L341.9,591 L342.8,593.8 L343.8,602.8 L344.7,620.8 L345.6,642.5 L346.5,662.4 L347,673.2 L347.7,662.4 L348.3,644.3 L349.2,629.9 L350.1,624.4 L351,621.7 L351.9,622.6 L352.8,625.3 L353.7,624.4 L354.6,622.3 L355,620.8 L355.5,622.6 L355.9,624.4 L356.8,629.9 L357.7,631.7 L358.6,622.6 L359.5,608.2 L360.4,595.6 L361.3,590.1 L362.2,588.3 L363.1,588 L364,590.1 L364.9,595.6 L365.8,604.6 L366.7,608.2 L367.6,610 L368.5,608.2 L369.4,606.4 L370.3,608.2 L371.2,610 L372.2,615.4 L373.1,611.8 L374,606.4 L374.9,604.6 L375.8,603.7 L376.7,604.6 L377.6,608.2 L378.5,617.2 L379.4,628.1 L380.3,635.3 L381.2,624.4 L382.1,615.4 L383,613.6 L383.9,617.2 L384.8,628.1 L385.7,646.1 L386.2,667.8 L386.8,669.6 L387.5,653.3 L388.4,635.3 L389.3,624.4 L390.2,628.1 L391.1,635.3 L392,629.9 L392.9,635.3 L393.5,653.3 L394,669.6 L394.7,669.6 L395.6,646.1 L396.5,624.4 L397.4,613.6 L398.3,606.4 L399.2,602.8 L400.1,601.9 L401,602.8 L401.9,606.4 L402.8,613.6 L403.8,617.2 L404.7,615.4 L405.6,613.6 L406.5,615.4 L407.4,617.2 L408.3,615.4 L409.2,611.8 L410.1,608.2 L411,610 L411.9,615.4 L412.8,622.6 L413.7,631.7 L414.6,633.5 L415,604.6 L415.5,620.8 L415.9,602.8 L416.8,601 L417.7,600.1 L418.6,601 L419.5,604.6 L420.4,613.6 L421.3,624.4 L422.2,638.9 L423.1,653.3 L423.7,662.4 L424.4,649.7 L424.9,629.9 L425.8,613.6 L426.7,601 L427.6,593.8 L428.5,591.6 L429.4,592.3 L430.3,597.4 L431.2,606.4 L432.2,619 L433.1,631.7 L434,642.5 L434.9,633.5 L435.8,620.8 L436.7,608.2 L437.6,601 L438.5,597.4 L439.4,596.5 L440.3,597.4 L441.2,601 L442.1,610 L443,622.6 L443.9,638.9 L444.8,653.3 L445.3,662.4 L446.1,653.3 L446.6,646.1 L447.5,639.8 L448.4,638.9 L449.3,642.5 L450.2,644.3 L451.1,637.1 L452,631.7 L452.9,629.9 L453.8,633.5 L454.7,642.5 L455.6,656.9 L456.5,669.6 L457.2,669.6 L458,653.3 L458.7,640.7 L459.6,631.7 L460.5,626.2 L461.4,628.1 L462.3,635.3 L463.2,646.1 L464.1,651.5 L465,647.9 L465.9,638.9 L466.8,628.1 L467.7,622.6 L468.6,624.4 L469.5,638.9 L470.2,669.6 L471,669.6 L471.9,644.3 L472.8,620.8 L473.7,606.4 L474.6,599.2 L475,597.4 L475.5,597.4 L475.9,599.2 L476.8,606.4 L477.7,617.2 L478.6,624.4 L479.5,622.6 L480.4,617.2 L481.3,616.3 L482.2,619 L483.1,624.4 L484,635.3 L484.9,644.3 L485.5,646.1 L486.2,635.3 L487.1,622.6 L488,614.5 L488.9,610.9 L489.8,610 L490.7,613.6 L491.6,620.8 L492.5,631.7 L493.4,646.1 L494.3,660.6 L494.9,671.4 L495.6,671.4 L496.3,662.4 L497,653.3 L497.9,649.7 L498.8,648.3 L499.7,647.9 L500.6,648.8 L501.5,649.7 L502.4,647.9 L503.3,642.5 L504.2,635.3 L505.2,628.1 L506.1,620.8 L507,616.3 L507.9,614.5 L508.8,614.5 L509.7,616.3 L510.6,620.8 L511.5,629.9 L512,638.9 L512.9,653.3 L513.8,656.9 L514.7,653.3 L515.6,648.8 L516.5,648.8 L517.4,653.3 L518.3,662.4 L518.9,671.4 L519.6,667.8 L520.1,660.6 L521,649.7 L521.9,642.5 L522.8,639.8 L523.8,640.3 L524.7,646.1 L525.6,656.9 L526.5,666 L527.4,669.6 L528.3,669.6 L529.2,669.6 L530.1,671.4 L531,672.3 L531.9,672.3 L535.5,672.8 L535.9,671.4 L536.8,667.8 L537.7,653.3 L538.6,635.3 L539.5,624.4 L540.4,617.2 L541.3,613.6 L542.2,612.2 L543.1,611.8 L544,612.7 L544.9,615.4 L545.8,620.8 L546.7,628.1 L547.6,638.9 L548.5,646.1 L549.4,649.7 L550.3,653.3 L551.2,658.8 L552.2,666 L553.1,671.4 L554,671.4 L554.9,667.8 L555.8,666 L556.7,665.1 L557.6,666.9 L558.5,671.4 L559.4,673.2 L566.6,673.2 L567.1,666 L567.9,656.9 L568.6,653.3 L569.3,655.1 L570,662.4 L570.8,671.4 L571.5,673.2 L580.1,673.2 L580.9,662.4 L581.6,655.1 L582.3,653.3 L583,656.9 L583.8,664.2 L584.7,673.2 L592.8,673.2 L593.7,662.4 L594.6,653.3 L595.5,649.7 L595.9,648.8 L596.8,647.9 L597.7,649.7 L598.6,656.9 L599.5,667.8 L600.4,672.8 L603.1,672.8 L604,667.8 L604.9,664.2 L605.8,664.2 L606.7,666 L607.6,671.4 L608.5,672.8 L612.2,672.8 L613.1,664.2 L614,656.9 L614.9,654.2 L615.8,654.8 L616.7,658.8 L617.6,664.2 L618.5,669.6 L619.4,672.8 L633.8,672.8 L634.7,669.6 L635.6,665.1 L636.5,664.2 L637.4,665.1 L638.3,669.6 L639.2,672.8 L643.8,672.8 L644.7,667.8 L645.6,663.3 L646.5,660.6 L647.4,660.2 L648.3,662.4 L649.2,669.6 L650.1,673.4 L650.1,673.4 Z" fill="#c09ad4"/>
<clipPath id="cb"><rect x="53.6" y="410.3" width="621.9" height="263.1"/></clipPath>
<path d="M55.1,676.4 L56.4,653 L58.2,634.7 L60.1,620 L61.4,610.8 L62.8,585.2 L64.3,565 L64.7,543 L65.6,521 L66.5,493.5 L67.4,469.7 L68.3,451.3 L69.2,438.5 L70.2,431.2 L71.1,428.4 L72,427.9 L72.9,429.3 L73.8,434.8 L74.8,444 L75.7,455 L76.6,466 L77.5,473.3 L78.4,475.2 L79.3,477 L79.9,484.3 L80.4,499 L81.2,517.3 L82.1,532 L83,539.3 L83,546.7 L83.9,548.5 L84.8,561.3 L85.8,572.3 L86.7,563.2 L87.6,552.2 L88.5,548.5 L89.4,557.7 L90.3,574.2 L91.2,634.7 L91.8,625.5 L92.5,570.5 L93.3,554 L94,550.3 L94.9,546.7 L97.7,532 L98.6,530.2 L99.5,521 L100.4,502.7 L101.3,491.7 L102.2,484.3 L103.2,478.8 L104.1,475.2 L105,473.3 L105.9,471.5 L106.8,470 L108.3,469.3 L109.6,471.5 L110.5,475.2 L111.4,480.7 L112.3,484.3 L113.2,486.2 L114.2,493.5 L115.1,513.7 L116,530.2 L116,546.7 L116.9,570.5 L117.5,587 L118.2,568.7 L119.3,566.8 L120.6,565 L121.5,532.9 L121.5,557.7 L122.4,535.7 L122.4,548.5 L127,530.2 L127.9,519.2 L128.8,514.6 L129.8,515.5 L130.7,521 L131.6,522.8 L132.5,517.3 L133.4,514.6 L134.3,514 L135.2,515.5 L136.2,519.2 L137.1,521 L138,517.3 L138.9,517.3 L139.8,521 L140.8,532 L142,543 L142.6,642.9 L143.1,543 L144.4,521 L145.3,502.7 L146.2,488 L147.2,480.7 L148.1,477.9 L149,477.4 L149.9,478.8 L150,477.2 L150.8,484.3 L151,481.1 L151.8,491.7 L151.9,488.9 L152.9,496.7 L153.5,502.5 L154.3,508.3 L154.9,516.1 L155.8,531.7 L156.8,555 L157.8,576.4 L158.2,671.3 L158.8,586.1 L159.7,582.2 L160.7,570.6 L161.7,558.9 L162.6,549.2 L163.6,546.2 L164.6,547.2 L165.6,551.1 L166.5,556.9 L167.5,562.8 L168.5,566.7 L169.4,567.6 L170.4,564.7 L171.4,558.9 L172.4,551.1 L173.3,541.4 L174.3,531.7 L175.3,525.8 L176.2,522.9 L177.2,521.9 L178.2,523.9 L179.2,527.8 L180.1,535.6 L181.1,547.2 L181.7,606.9 L182.3,547.2 L183.1,527.8 L184,512.2 L185,506.4 L186,503.5 L186.9,502.5 L187.9,504.4 L188.9,510.3 L189.9,514.2 L190.8,516.1 L191.8,520 L192.8,523.9 L193.8,529.7 L194.3,541.4 L195.1,566.7 L195.3,607.9 L195.6,646.2 L195.7,543.3 L196.1,607.9 L196.6,569.6 L196.7,537.5 L197.6,535.6 L198.2,572.8 L198.6,537.5 L199.6,543.3 L199.8,579.2 L200.2,555 L201.4,599.9 L202.2,625.5 L203,599.9 L203.8,579.2 L204.6,571.2 L206.2,568 L207.8,566.4 L209.4,567.2 L211,569.6 L212.6,576 L213.4,584 L214.2,591.9 L214.6,579.2 L215.1,543.3 L215.3,563.2 L216,518.6 L216.1,520 L216.9,508.9 L217.1,508.3 L217.9,505 L218.1,505.4 L218.9,504 L219,504.4 L219.9,505 L220.8,508.9 L221.8,518.6 L222.8,528.3 L223.8,538.1 L224.7,543.9 L225.7,547.8 L226.7,549.7 L227.6,547.8 L228.6,541.9 L229.6,537.1 L230.6,535.7 L231.5,537.1 L232.5,543.9 L233.5,555.6 L234.1,569.6 L234.9,579.2 L235.7,588.8 L236.5,590.3 L237.3,584 L238.1,577.6 L238.9,576 L239.7,584 L240.5,631.1 L241,607.9 L241.6,576 L242.3,563.2 L243.2,557.5 L244.2,551.7 L245.1,549.7 L246.1,547.8 L247.1,546.8 L248.1,545.8 L249,544.9 L250,542.9 L251,541 L251.9,540 L252.8,542.8 L252.9,541.9 L254.2,543.5 L255.6,542.1 L255.8,540 L256.8,537.1 L257.8,536.1 L258.8,537.1 L259.7,540 L261.8,548.3 L262.5,574.7 L263.2,637.2 L263.7,656.6 L263.9,595.6 L264.6,573.3 L265.3,567.8 L266,571.9 L266.7,581.7 L267.4,588.6 L268.1,592.8 L269.4,594.2 L270.8,592.8 L271.5,595.6 L272.2,623.3 L272.9,609.4 L273.3,676.4 L273.6,595.6 L274.3,587.2 L275,586.5 L275.7,585.8 L276.4,587.2 L277.1,590 L277.8,592.8 L278.5,595.6 L279.2,590 L279.9,583.1 L280.6,580.3 L281.2,578.9 L281.9,580.3 L282.6,583.1 L283.3,585.8 L284,585.8 L284.7,595.6 L285.4,602.5 L285.8,608.1 L286.4,601.1 L286.8,588.6 L287.5,576.1 L288.2,570.6 L288.9,567.8 L289.6,565.7 L290.3,563.6 L291,562.2 L291.7,560.8 L292.4,559.4 L293.1,558.1 L293.8,557.4 L294.4,558.1 L295.1,560.8 L295.8,565 L296.5,567.8 L297.2,570.6 L297.7,599.2 L297.9,574.7 L298.2,631.7 L298.6,595.6 L299,599.2 L299.3,630.3 L300.1,572.1 L301,563.1 L301.9,560.3 L302.8,561.2 L303.7,568.5 L304.6,581.1 L305.5,595.6 L306.4,604.6 L307.3,608.2 L308.2,613.6 L309.1,620.8 L310,638.9 L310.9,662.4 L311.6,676.4 L312.3,662.4 L313.1,646.1 L314,626.2 L314.9,608.2 L315.8,597.4 L316.7,592.8 L317.6,593.8 L318.5,599.2 L319.4,610 L320.3,626.2 L321.2,653.3 L321.7,671.4 L322.4,653.3 L323,617.2 L323.9,591.9 L324.8,581.1 L325.7,578.4 L326.6,579.3 L327.5,584.7 L328.4,591.9 L329.3,590.1 L330.2,582.9 L331.1,575.7 L332,573 L332.9,573 L333.8,576.6 L334.7,582.9 L335.6,590.1 L336.5,597.4 L337.4,599.2 L338.3,598.3 L339.2,595.6 L340.1,591.9 L341,590.1 L341.9,591 L342.8,593.8 L343.8,602.8 L344.7,620.8 L345.6,642.5 L346.5,662.4 L347,676.4 L347.7,662.4 L348.3,644.3 L349.2,629.9 L350.1,624.4 L351,621.7 L351.9,622.6 L352.8,625.3 L353.7,624.4 L354.6,622.3 L355,620.8 L355.5,622.6 L355.9,624.4 L356.8,629.9 L357.7,631.7 L358.6,622.6 L359.5,608.2 L360.4,595.6 L361.3,590.1 L362.2,588.3 L363.1,588 L364,590.1 L364.9,595.6 L365.8,604.6 L366.7,608.2 L367.6,610 L368.5,608.2 L369.4,606.4 L370.3,608.2 L371.2,610 L372.2,615.4 L373.1,611.8 L374,606.4 L374.9,604.6 L375.8,603.7 L376.7,604.6 L377.6,608.2 L378.5,617.2 L379.4,628.1 L380.3,635.3 L381.2,624.4 L382.1,615.4 L383,613.6 L383.9,617.2 L384.8,628.1 L385.7,646.1 L386.2,667.8 L386.8,669.6 L387.5,653.3 L388.4,635.3 L389.3,624.4 L390.2,628.1 L391.1,635.3 L392,629.9 L392.9,635.3 L393.5,653.3 L394,669.6 L394.7,669.6 L395.6,646.1 L396.5,624.4 L397.4,613.6 L398.3,606.4 L399.2,602.8 L400.1,601.9 L401,602.8 L401.9,606.4 L402.8,613.6 L403.8,617.2 L404.7,615.4 L405.6,613.6 L406.5,615.4 L407.4,617.2 L408.3,615.4 L409.2,611.8 L410.1,608.2 L411,610 L411.9,615.4 L412.8,622.6 L413.7,631.7 L414.6,633.5 L415,604.6 L415.5,620.8 L415.9,602.8 L416.8,601 L417.7,600.1 L418.6,601 L419.5,604.6 L420.4,613.6 L421.3,624.4 L422.2,638.9 L423.1,653.3 L423.7,662.4 L424.4,649.7 L424.9,629.9 L425.8,613.6 L426.7,601 L427.6,593.8 L428.5,591.6 L429.4,592.3 L430.3,597.4 L431.2,606.4 L432.2,619 L433.1,631.7 L434,642.5 L434.9,633.5 L435.8,620.8 L436.7,608.2 L437.6,601 L438.5,597.4 L439.4,596.5 L440.3,597.4 L441.2,601 L442.1,610 L443,622.6 L443.9,638.9 L444.8,653.3 L445.3,662.4 L446.1,653.3 L446.6,646.1 L447.5,639.8 L448.4,638.9 L449.3,642.5 L450.2,644.3 L451.1,637.1 L452,631.7 L452.9,629.9 L453.8,633.5 L454.7,642.5 L455.6,656.9 L456.5,669.6 L457.2,669.6 L458,653.3 L458.7,640.7 L459.6,631.7 L460.5,626.2 L461.4,628.1 L462.3,635.3 L463.2,646.1 L464.1,651.5 L465,647.9 L465.9,638.9 L466.8,628.1 L467.7,622.6 L468.6,624.4 L469.5,638.9 L470.2,669.6 L471,669.6 L471.9,644.3 L472.8,620.8 L473.7,606.4 L474.6,599.2 L475,597.4 L475.5,597.4 L475.9,599.2 L476.8,606.4 L477.7,617.2 L478.6,624.4 L479.5,622.6 L480.4,617.2 L481.3,616.3 L482.2,619 L483.1,624.4 L484,635.3 L484.9,644.3 L485.5,646.1 L486.2,635.3 L487.1,622.6 L488,614.5 L488.9,610.9 L489.8,610 L490.7,613.6 L491.6,620.8 L492.5,631.7 L493.4,646.1 L494.3,660.6 L494.9,671.4 L495.6,671.4 L496.3,662.4 L497,653.3 L497.9,649.7 L498.8,648.3 L499.7,647.9 L500.6,648.8 L501.5,649.7 L502.4,647.9 L503.3,642.5 L504.2,635.3 L505.2,628.1 L506.1,620.8 L507,616.3 L507.9,614.5 L508.8,614.5 L509.7,616.3 L510.6,620.8 L511.5,629.9 L512,638.9 L512.9,653.3 L513.8,656.9 L514.7,653.3 L515.6,648.8 L516.5,648.8 L517.4,653.3 L518.3,662.4 L518.9,671.4 L519.6,667.8 L520.1,660.6 L521,649.7 L521.9,642.5 L522.8,639.8 L523.8,640.3 L524.7,646.1 L525.6,656.9 L526.5,666 L527.4,669.6 L528.3,669.6 L529.2,669.6 L530.1,671.4 L531,672.3 L531.9,672.3 L535.5,676.4 L535.9,671.4 L536.8,667.8 L537.7,653.3 L538.6,635.3 L539.5,624.4 L540.4,617.2 L541.3,613.6 L542.2,612.2 L543.1,611.8 L544,612.7 L544.9,615.4 L545.8,620.8 L546.7,628.1 L547.6,638.9 L548.5,646.1 L549.4,649.7 L550.3,653.3 L551.2,658.8 L552.2,666 L553.1,671.4 L554,671.4 L554.9,667.8 L555.8,666 L556.7,665.1 L557.6,666.9 L558.5,671.4 L559.4,676.4 L566.6,676.4 L567.1,666 L567.9,656.9 L568.6,653.3 L569.3,655.1 L570,662.4 L570.8,671.4 L571.5,676.4 L580.1,676.4 L580.9,662.4 L581.6,655.1 L582.3,653.3 L583,656.9 L583.8,664.2 L584.7,676.4 L592.8,676.4 L593.7,662.4 L594.6,653.3 L595.5,649.7 L595.9,648.8 L596.8,647.9 L597.7,649.7 L598.6,656.9 L599.5,667.8 L600.4,676.4 L603.1,676.4 L604,667.8 L604.9,664.2 L605.8,664.2 L606.7,666 L607.6,671.4 L608.5,676.4 L612.2,676.4 L613.1,664.2 L614,656.9 L614.9,654.2 L615.8,654.8 L616.7,658.8 L617.6,664.2 L618.5,669.6 L619.4,676.4 L633.8,676.4 L634.7,669.6 L635.6,665.1 L636.5,664.2 L637.4,665.1 L638.3,669.6 L639.2,676.4 L643.8,676.4 L644.7,667.8 L645.6,663.3 L646.5,660.6 L647.4,660.2 L648.3,662.4 L649.2,669.6 L650.1,676.4" fill="none" stroke="#9e58b2" stroke-width="1.7" stroke-linejoin="round" clip-path="url(#cb)"/>
<path d="M54.6,676.4 L55.5,656.7 L56.4,645.7 L57.3,636.5 L58.2,631 L59.2,632.8 L60.1,629.2 L61,618.2 L61.9,612.7 L62.8,614.5 L63.8,598 L64.7,570.5 L65.6,543 L66.5,517.3 L67.4,488 L68.3,462.3 L69.2,438.5 L70.2,422 L71.1,415.6 L72,415 L72.9,418.3 L73.8,427.5 L74.8,442.2 L75.7,456.8 L76.6,469.7 L77.1,478.8 L77.5,480.7 L78.4,482.5 L79,491.7 L79.3,502.7 L79.9,513.7 L80.4,522.8 L81.2,528.3 L82.1,532 L82.1,554 L82.6,535.7 L82.6,568.7 L83.4,557.7 L83.9,579.7 L84.8,616.3 L85.4,642 L86.1,598 L86.7,579.7 L87.6,563.2 L88.5,570.5 L89.1,598 L89.6,623.7 L90.3,588.8 L91.2,577.8 L92.2,609 L93.1,631 L94,634.7 L94.7,603.5 L95.5,583.3 L96.2,592.5 L96.9,620 L97.3,651.2 L98,625.5 L98.6,605.3 L99.1,642 L99.9,649.3 L100.4,616.3 L101,590.7 L101.7,607.2 L102.2,638.3 L103.2,610.8 L104.1,609 L105,612.7 L105.9,603.5 L106.8,612.7 L107.8,625.5 L108.7,642 L109.6,631 L110.5,618.2 L111.4,645.7 L112,671.3 L112.5,625.5 L113.2,616.3 L114.2,627.3 L115.1,632.8 L116,625.5 L116.9,653 L117.8,605.3 L118.8,601.7 L119.7,594.3 L120.6,592.5 L121.5,583.3 L122.4,576 L123.3,566.8 L124.2,557.7 L125.2,550.3 L127.9,530.2 L128.8,526.5 L129.8,525.6 L130.7,525.6 L131.6,528.3 L132.5,535.7 L134,544.8 L134.3,552.2 L134.9,544.8 L135.2,530.2 L136.2,515.5 L137.1,502.7 L138,495.3 L138.9,491.7 L139.8,491.7 L140.8,497.2 L141.7,500.8 L142.6,493.5 L143.5,480.7 L144.4,467.8 L145.3,458.7 L146.2,451.3 L147.2,446.8 L148.1,445.3 L149,445.8 L149.9,449.5 L150,450 L150.8,458.7 L151,465.6 L151.6,479.2 L151.8,473.3 L152.3,494.7 L152.9,502.5 L153.5,506.4 L154.3,507.4 L154.9,508.3 L155.8,518.1 L156.8,547.2 L157.4,576.4 L157.8,586.1 L158.4,570.6 L158.8,547.2 L159.3,518.1 L160.1,506.4 L160.7,505.4 L161.7,512.2 L162.6,531.7 L163.6,545.3 L164.2,547.2 L164.8,535.6 L165.6,522.9 L166.5,519 L167.5,520 L168.5,522.9 L169.4,529.7 L170.4,539.4 L171.4,547.2 L172.4,551.1 L173.3,541.4 L174.3,523.9 L175.3,512.2 L176.2,507.4 L177.2,506.4 L178.2,508.3 L179.2,518.1 L180.1,531.7 L181.1,540.4 L181.7,533.6 L182.5,518.1 L183.4,508.3 L184.4,509.3 L185.4,523.9 L186,544.3 L186.6,535.6 L187.3,523.9 L188.3,519 L189.3,523.9 L190.2,541.4 L190.8,570.6 L191.4,558.9 L192.2,531.7 L193.2,525.8 L194.1,531.7 L195.1,549.2 L195.7,564.7 L195.8,563.2 L196.3,558.9 L197.1,553.1 L197.4,564 L198,555 L199,569.6 L199,560.8 L199.8,584 L200.6,596.7 L201.1,601.5 L201.7,591.9 L202.7,579.2 L203.5,574.4 L204.3,577.6 L205.1,585.6 L205.9,595.1 L206.7,607.9 L207.5,627.1 L208.1,636.7 L208.7,623.9 L209.4,604.7 L210.2,596.7 L211,599.9 L211.5,612.7 L212.1,623.9 L212.6,612.7 L213.4,599.9 L214.2,595.1 L215,593.5 L215.8,596.7 L216.6,604.7 L217.4,611.1 L218.2,604.7 L219,600.7 L219.8,601.5 L220.6,603.1 L221.4,606.3 L222.2,607.9 L223,611.1 L223.8,609.5 L224.5,611.1 L225.3,607.9 L226.1,611.1 L226.9,612.7 L227.7,613.5 L228.5,614.3 L229.3,614.3 L230.1,607.9 L230.9,601.5 L231.7,596.7 L232.5,591.9 L233.3,588.8 L234.1,584 L234.9,576 L235.7,571.2 L236.5,566.4 L237.3,563.2 L238.1,562.4 L238.3,562.4 L239.7,563.2 L240.3,561.4 L240.5,561.6 L241.2,555.6 L242.2,549.7 L243.2,544.9 L244.2,543.9 L245.1,545.8 L246.1,551.7 L247.1,561.4 L247.7,569.6 L248.5,576 L249.3,569.6 L250,567.8 L250.4,551.7 L250.7,553.9 L251.4,536.1 L251.4,542.8 L252.3,526.4 L253.3,524.4 L254.3,528.3 L255.2,532.2 L256.2,530.3 L257.2,522.5 L258.2,517.6 L259.1,516.7 L260.1,520.6 L261.1,530.3 L261.7,541.9 L261.8,540 L262.2,551.1 L262.8,555.3 L263.5,551.1 L264.3,549.7 L265,553.9 L265.7,567.8 L266.4,584.4 L267.1,599.7 L267.8,612.2 L268.5,616.4 L269.4,619.2 L270.1,615 L270.8,602.5 L271.5,592.8 L272.2,585.8 L272.9,583.1 L273.6,584.4 L274.3,591.4 L275,599.7 L275.7,606.7 L276.4,608.8 L277.1,609.4 L277.8,608.8 L278.5,606.7 L279.2,601.1 L279.9,594.2 L280.6,585.8 L281.2,577.5 L281.9,571.9 L282.6,569.2 L283.3,567.8 L284,566.4 L284.7,565.7 L285.4,566.4 L286.1,568.5 L286.8,571.9 L287.5,577.5 L288.2,583.1 L288.9,587.2 L289.6,588.6 L290.3,587.2 L291,581.7 L291.7,577.5 L292.4,574.7 L293.1,573.3 L293.8,574.7 L294.4,576.1 L295.1,577.5 L295.8,576.8 L296.5,576.8 L297.2,577.5 L297.7,578.4 L297.9,577.5 L298.6,578.9 L298.6,579.3 L299.3,581.7 L299.5,584.7 L300.4,595.6 L301.3,606.4 L301.9,607.3 L302.6,595.6 L303.5,581.1 L304.4,577.5 L305.3,579.3 L306.2,582.9 L307.1,583.8 L308,590.1 L308.9,602.8 L309.8,613.6 L310.7,619 L311.6,608.2 L312.5,601 L313.4,602.8 L314.3,610 L315.2,615.4 L316.1,618.1 L317,617.2 L317.9,619 L318.8,624.4 L319.7,631.7 L320.6,638.9 L321.2,639.8 L321.7,631.7 L322.4,623.5 L323.3,620.8 L324.2,619 L325.2,620.8 L326.1,626.2 L327,629 L327.9,629.9 L328.8,628.1 L329.7,627.2 L330.6,628.1 L331.5,627.7 L332.4,628.4 L333.3,628.1 L334.2,629.9 L335.1,629 L336,630.8 L336.9,629.5 L337.8,630.2 L338.7,629.9 L339.6,630.8 L340.5,629.9 L341.4,629 L342.3,628.1 L343.2,626.2 L344.1,619 L345,613.6 L345.9,608.2 L346.8,604.6 L347.7,601.9 L348.6,600.1 L349.5,599.2 L350.4,599.2 L351.3,600.1 L352.2,601.9 L353.1,604.6 L354,605.5 L354.9,604.6 L355.8,603.7 L355.9,604.6 L356.8,602.8 L357.7,597.4 L358.6,586.5 L359.5,575.7 L360.4,568.5 L361.3,564.9 L362.2,563.1 L363.1,563.1 L364,564 L364.9,566.7 L365.8,572.1 L366.7,581.1 L367.6,593.8 L368.5,606.4 L369.4,613.6 L370.3,620.8 L371.2,626.2 L372.2,620.8 L373.1,604.6 L374,591.9 L374.9,581.1 L375.8,578.4 L376.7,579.3 L377.6,584.7 L378.5,595.6 L379.4,608.2 L380.3,620.8 L381.2,629.9 L382.1,637.1 L383,641.6 L383.9,638.9 L384.8,628.1 L385.7,617.2 L386.6,610 L387.5,606.4 L388.4,607.3 L389.3,611.8 L390.2,620.8 L391.1,628.1 L392,629.9 L392.9,617.2 L393.8,601 L394.7,595.6 L395.6,595.2 L396.5,597.4 L397.4,595.6 L398.3,588.3 L399.2,581.1 L400.1,578.4 L401,581.1 L401.9,591.9 L402.8,608.2 L403.8,619 L404.7,613.6 L405.6,601 L406.5,598.3 L407.4,602.8 L408.3,611.8 L409.2,604.6 L410.1,595.6 L411,593.8 L411.9,599.2 L412.8,613.6 L413.7,628.1 L414.6,620.8 L415.5,608.2 L415.9,602.8 L416.8,610 L417.7,620.8 L418.6,629.9 L419.5,633.5 L420.4,626.2 L421.3,613.6 L422.2,606.4 L423.1,604.6 L424,606.4 L424.9,613.6 L425.8,626.2 L426.7,646.1 L427.6,664.2 L428.2,664.2 L428.9,649.7 L429.8,635.3 L430.7,629 L431.6,628.1 L432.5,629.9 L433.4,635.3 L434.3,644.3 L435.2,649.7 L436.1,650.6 L437,649.7 L437.9,646.1 L438.8,644.3 L439.7,643.9 L440.6,645.2 L441.5,647.9 L442.4,649.7 L443.3,648.8 L444.2,647 L445.2,645.2 L446.1,643.9 L447,642.5 L447.9,642.9 L448.8,643.9 L449.7,644.3 L450.6,645.2 L451.5,646.1 L452.4,646.5 L453.3,647.6 L454.2,647.9 L455.1,648.3 L456,647 L456.9,642.5 L457.8,637.1 L458.7,629.9 L459.6,622.6 L460.5,618.1 L461.4,616.3 L462.3,617.2 L463.2,620.8 L464.1,629.9 L465,638.9 L465.6,640.7 L466.1,635.3 L466.8,622.6 L467.7,608.2 L468.6,597.4 L469.5,593.8 L470.4,594.7 L471.3,599.2 L472.2,608.2 L473.1,620.8 L474,635.3 L474.9,647.9 L475.5,653.3 L475.8,658.8 L476.1,626.2 L476.8,608.2 L477.7,595.6 L478.6,590.1 L479.5,588.3 L480.4,589.2 L481.3,593.8 L482.2,602.8 L483.1,613.6 L484,622.6 L484.9,628.1 L485.8,629.9 L486.7,628.4 L487.6,627.7 L488.5,629.9 L489.4,631.7 L490.3,634.4 L491.2,637.1 L492.2,637.4 L493.1,636.2 L494,635.3 L494.9,636.2 L495.8,633.5 L496.7,631.7 L497.6,629.9 L498.5,628.4 L499.4,629 L500.3,631.7 L501.2,637.1 L502.1,646.1 L503,651.5 L503.9,649.7 L504.8,642.5 L505.7,633.5 L506.6,626.2 L507.5,622.6 L508.4,621.7 L509.3,624.4 L510.2,631.7 L511.1,646.1 L512,660.6 L512.6,667.8 L513.3,653.3 L514.2,631.7 L515.1,617.2 L516,608.2 L516.9,604.6 L517.8,602.8 L518.7,602.4 L519.6,602.8 L520.5,603.7 L521.4,605.5 L522.3,608.2 L523.2,613.6 L524.1,620.8 L525,631.7 L525.9,642.5 L526.8,653.3 L527.7,662.4 L528.6,666 L529.5,660.6 L530.4,651.5 L531.3,644.3 L532.2,638.9 L533.1,635.3 L534,633.5 L534.9,633.1 L535.8,633.5 L535.9,634.4 L536.8,637.1 L537.7,642.5 L538.6,646.1 L539.5,648.8 L540.4,649.7 L541.3,651.5 L542.2,653.3 L543.1,655.1 L544,656.9 L544.9,657.8 L545.8,656.9 L546.7,657.8 L547.6,658.8 L548.5,657.8 L549.4,660.6 L550.3,662.4 L551.2,665.1 L552.2,666.9 L553.1,667.8 L554,666 L554.9,665.1 L555.8,664.2 L556.7,665.1 L557.6,666 L558.5,667.8 L559.4,669.6 L560.3,671.4 L561.2,676.4 L563,676.4 L563.9,667.8 L564.8,656.9 L565.7,646.1 L566.6,640.7 L567.5,637.1 L568.4,635.3 L569.3,633.5 L570.2,631.7 L571.1,629.9 L572,628.1 L572.9,626.2 L573.8,624.4 L574.7,620.8 L575.6,615.4 L576.5,610 L577.4,605.5 L578.3,603.1 L579.2,603.7 L580.1,608.2 L581,620.8 L581.9,638.9 L582.8,656.9 L583.4,671.4 L584.1,662.4 L584.7,644.3 L585.6,628.1 L586.5,619 L587.4,616.9 L588.3,619 L589.2,626.2 L590.1,637.1 L591,647.9 L591.9,655.1 L592.8,657.8 L593.7,660.6 L594.6,664.2 L595.5,669.6 L595.9,671.4 L596.8,667.8 L597.7,656.9 L598.6,646.1 L599.5,637.1 L600.4,631.7 L601.3,629.9 L602.2,629.9 L603.1,630.8 L604,633.5 L604.9,637.1 L605.8,640.7 L606.7,644.3 L607.6,646.1 L608.5,647 L609.4,648.8 L610.3,651.5 L611.2,654.2 L612.2,656.9 L613.1,659.7 L614,661.5 L614.9,662.4 L615.8,662 L616.7,659.7 L617.6,656 L618.5,654.2 L619.4,654.2 L620.3,656.9 L621.2,664.2 L622.1,671.4 L623,676.4 L624.8,676.4 L625.7,667.8 L626.6,662.4 L627.5,663.3 L628.4,669.6 L629.3,676.4 L631.1,676.4 L632,664.2 L632.9,654.2 L633.8,653 L634.7,655.1 L635.6,662.4 L636.5,669.6 L637.4,671.4 L638.3,669.6 L639.2,667.8 L640.1,669.6 L641,676.4 L641.9,676.4" fill="none" stroke="#000" stroke-width="2" stroke-linejoin="round" clip-path="url(#cb)"/>
<g stroke="#8c8c8c" stroke-width="1.2" fill="none">
<rect x="53.6" y="413.3" width="621.9" height="260.1"/>
<path d="M53.6,660.4h3.8M675.5,660.4h-3.8M53.6,643.1h3.8M675.5,643.1h-3.8M53.6,634.3h3.8M675.5,634.3h-3.8M53.6,630h7M675.5,630h-7M53.6,617h3.8M675.5,617h-3.8M53.6,599.7h3.8M675.5,599.7h-3.8M53.6,590.9h3.8M675.5,590.9h-3.8M53.6,586.7h7M675.5,586.7h-7M53.6,573.7h3.8M675.5,573.7h-3.8M53.6,556.4h3.8M675.5,556.4h-3.8M53.6,547.6h3.8M675.5,547.6h-3.8M53.6,543.4h7M675.5,543.4h-7M53.6,530.3h3.8M675.5,530.3h-3.8M53.6,513h3.8M675.5,513h-3.8M53.6,504.2h3.8M675.5,504.2h-3.8M53.6,500h7M675.5,500h-7M53.6,487h3.8M675.5,487h-3.8M53.6,469.7h3.8M675.5,469.7h-3.8M53.6,460.9h3.8M675.5,460.9h-3.8M53.6,456.6h7M675.5,456.6h-7M53.6,443.6h3.8M675.5,443.6h-3.8M53.6,426.3h3.8M675.5,426.3h-3.8M53.6,417.5h3.8M675.5,417.5h-3.8M209.1,673.4v-6M364.6,673.4v-6M520,673.4v-6M71.9,413.3v6.8M108.6,413.3v6.8M145.3,413.3v6.8M182,413.3v6.8M218.7,413.3v6.8M255.4,413.3v6.8M292.1,413.3v6.8M328.7,413.3v6.8M365.4,413.3v6.8M402.1,413.3v6.8M438.8,413.3v6.8M475.5,413.3v6.8M512.2,413.3v6.8M548.9,413.3v6.8M585.5,413.3v6.8M622.2,413.3v6.8M658.9,413.3v6.8"/>
</g>
<g class="t">
<text x="51" y="678.7" text-anchor="end">-3</text>
<text x="51" y="635.3" text-anchor="end">-2</text>
<text x="51" y="592" text-anchor="end">-1</text>
<text x="51" y="548.6" text-anchor="end">0</text>
<text x="51" y="505.3" text-anchor="end">1</text>
<text x="51" y="461.9" text-anchor="end">2</text>
<text x="51" y="418.6" text-anchor="end">3</text>
<text x="53.6" y="694.2" text-anchor="middle">0</text>
<text x="209.1" y="694.2" text-anchor="middle">5</text>
<text x="364.6" y="694.2" text-anchor="middle">10</text>
<text x="520" y="694.2" text-anchor="middle">15</text>
<text x="675.5" y="694.2" text-anchor="middle">20</text>
<text x="71.9" y="405" text-anchor="middle">1</text>
<text x="108.6" y="405" text-anchor="middle">3</text>
<text x="145.3" y="405" text-anchor="middle">5</text>
<text x="182" y="405" text-anchor="middle">7</text>
<text x="218.7" y="405" text-anchor="middle">9</text>
<text x="255.4" y="405" text-anchor="middle">11</text>
<text x="292.1" y="405" text-anchor="middle">13</text>
<text x="328.7" y="405" text-anchor="middle">15</text>
<text x="365.4" y="405" text-anchor="middle">17</text>
<text x="402.1" y="405" text-anchor="middle">19</text>
<text x="438.8" y="405" text-anchor="middle">21</text>
<text x="475.5" y="405" text-anchor="middle">23</text>
<text x="512.2" y="405" text-anchor="middle">25</text>
<text x="548.9" y="405" text-anchor="middle">27</text>
<text x="585.5" y="405" text-anchor="middle">29</text>
<text x="622.2" y="405" text-anchor="middle">31</text>
<text x="658.9" y="405" text-anchor="middle">33</text>
<text x="288.9" y="378.5" textLength="150.2" lengthAdjust="spacingAndGlyphs">Harmonic order</text>
<text x="308.9" y="714.1" textLength="110.5" lengthAdjust="spacingAndGlyphs">Energy [eV]</text>
<text transform="translate(19.6,633) rotate(-90)" textLength="178.7" lengthAdjust="spacingAndGlyphs">log(Intensity) [a.u.]</text>
<text x="509.5" y="437.2" textLength="58.9" lengthAdjust="spacingAndGlyphs">Linear</text>
<text x="493" y="460.8" textLength="75.4" lengthAdjust="spacingAndGlyphs">Circular</text>
<text x="562.5" y="507.7" textLength="90" lengthAdjust="spacingAndGlyphs">x-y plane</text>
</g>
<line x1="584.2" y1="432" x2="646.3" y2="432" stroke="#9e58b2" stroke-width="1.8" stroke-linecap="round"/>
<line x1="584.2" y1="455.3" x2="646.3" y2="455.3" stroke="#000" stroke-width="2" stroke-linecap="round"/>
<g class="lab">
<text x="-1.6" y="37.2">a</text><text x="17.6" y="34.6" class="par">)</text>
<text x="-1.6" y="408.6">b</text><text x="17.6" y="406.2" class="par">)</text>
</g>
</svg>
</body></html>
